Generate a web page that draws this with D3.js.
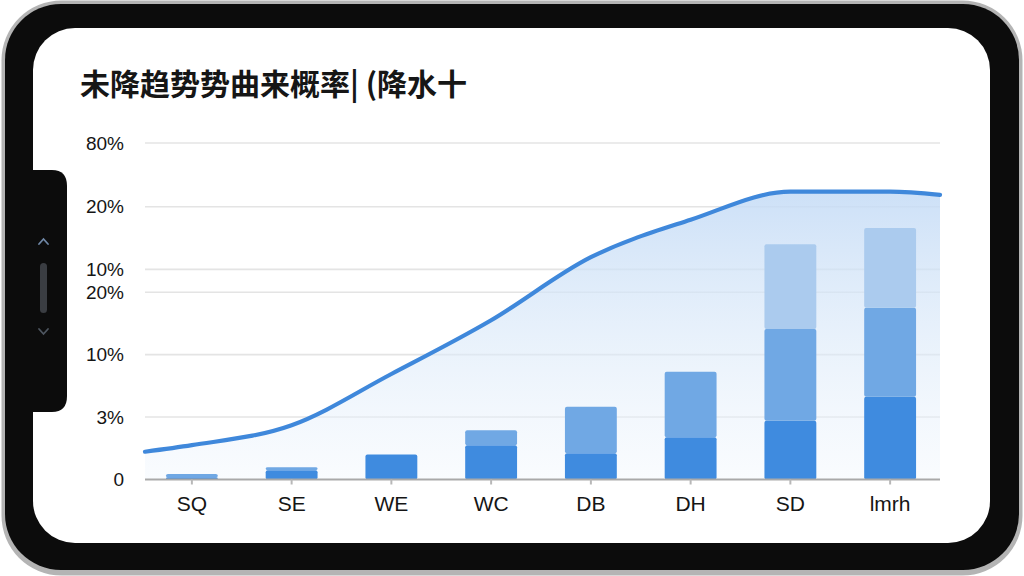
<!DOCTYPE html>
<html>
<head>
<meta charset="utf-8">
<script src="https://cdn.jsdelivr.net/npm/d3@7"></script>
<style>
  html, body { margin: 0; padding: 0; background: #ffffff; }
  svg { display: block; }
</style>
</head>
<body>
<svg id="chart" width="1024" height="576"></svg>
<script>
// ---- data ----
const title = "未降趋势势曲来概率| (降水十";
const categories = ["SQ", "SE", "WE", "WC", "DB", "DH", "SD", "lmrh"];
const baseValues  = [0.035, 0.15, 0.40, 0.55, 0.42, 0.675, 0.94, 1.325];
const midValues   = [0.053, 0.045, 0.00, 0.24, 0.745, 1.05, 1.47, 1.425];
const topValues   = [0.00, 0.00, 0.00, 0.00, 0.00, 0.00, 1.36, 1.28];
const lineValues  = [0.55, 0.87, 1.69, 2.55, 3.56, 4.16, 4.61, 4.61];
const lineEdgeValues = [0.445, 4.56];   // value at left and right plot edges
const tickPositions = [0, 1, 2, 3, 3.365, 4.37, 5.39];
const tickLabels    = ["0", "3%", "10%", "20%", "10%", "20%", "80%"];

// ---- setup ----
const svg = d3.select("#chart");
const plot = { left: 142, right: 940, top: 143, bottom: 479.5 };
const seriesKeys = ["base", "mid", "top"];
const seriesColors = { base: "#3f8bdf", mid: "#70a8e4", top: "#abcbee" };

// ---- phone frame ----
svg.append("rect").attr("x", 1.5).attr("y", 0.5).attr("width", 1021).attr("height", 575)
  .attr("rx", 60).attr("fill", "#b4b4b4");
svg.append("rect").attr("x", 5).attr("y", 4).attr("width", 1014).attr("height", 566)
  .attr("rx", 56).attr("fill", "#0c0c0c");
svg.append("rect").attr("x", 33).attr("y", 28).attr("width", 957).attr("height", 515)
  .attr("rx", 42).attr("fill", "#ffffff");

// side tab
const tab = d3.path();
tab.moveTo(28, 170); tab.lineTo(52, 170);
tab.quadraticCurveTo(67, 170, 67, 186);
tab.lineTo(67, 396);
tab.quadraticCurveTo(67, 412, 52, 412);
tab.lineTo(28, 412); tab.closePath();
svg.append("path").attr("d", tab.toString()).attr("fill", "#0c0c0c");
svg.append("rect").attr("x", 40).attr("y", 263).attr("width", 7).attr("height", 50)
  .attr("rx", 3.5).attr("fill", "#3a3d42");
svg.append("path").attr("d", "M39,244 L43.5,239 L48,244").attr("fill", "none")
  .attr("stroke", "#6f87a6").attr("stroke-width", 1.8).attr("stroke-linecap", "round");
svg.append("path").attr("d", "M39,329 L43.5,334 L48,329").attr("fill", "none")
  .attr("stroke", "#4e5660").attr("stroke-width", 1.8).attr("stroke-linecap", "round");

// ---- title ----
svg.append("text").attr("x", 80).attr("y", 95)
  .attr("font-family", "'Noto Sans CJK SC', sans-serif")
  .attr("font-size", 30).attr("font-weight", 700).attr("fill", "#161616")
  .text(title);

// ---- scales ----
const x = d3.scaleBand().domain(categories).range([plot.left, plot.right])
  .paddingInner(0.48).paddingOuter(0.24);
const y = d3.scaleLinear().domain([0, 5.39]).range([plot.bottom, plot.top]);

// ---- grid ----
svg.append("g").selectAll("line").data(tickPositions.filter(d => d > 0)).join("line")
  .attr("x1", plot.left + 3).attr("x2", plot.right)
  .attr("y1", d => y(d)).attr("y2", d => y(d))
  .attr("stroke", "#e4e4e4").attr("stroke-width", 1.6);

// ---- area gradient ----
const defs = svg.append("defs");
const grad = defs.append("linearGradient").attr("id", "areaGrad")
  .attr("x1", 0).attr("y1", 0).attr("x2", 0).attr("y2", 1);
grad.append("stop").attr("offset", "0%").attr("stop-color", "#c4dbf6").attr("stop-opacity", 0.85);
grad.append("stop").attr("offset", "55%").attr("stop-color", "#dceaf9").attr("stop-opacity", 0.6);
grad.append("stop").attr("offset", "100%").attr("stop-color", "#eef5fd").attr("stop-opacity", 0.35);

const lineData = [{ px: plot.left + 3, v: lineEdgeValues[0] }]
  .concat(categories.map((c, i) => ({ px: x(c) + x.bandwidth() / 2, v: lineValues[i] })))
  .concat([{ px: plot.right, v: lineEdgeValues[1] }]);

const area = d3.area().x(d => d.px).y0(y(0)).y1(d => y(d.v)).curve(d3.curveMonotoneX);
svg.append("path").datum(lineData).attr("d", area).attr("fill", "url(#areaGrad)");

// ---- stacked bars ----
const rows = categories.map((c, i) => ({ cat: c, base: baseValues[i], mid: midValues[i], top: topValues[i] }));
const stacked = d3.stack().keys(seriesKeys)(rows);
const barG = svg.append("g");
stacked.forEach(s => {
  barG.append("g").selectAll("rect").data(s.filter(d => d[1] - d[0] > 0)).join("rect")
    .attr("x", d => x(d.data.cat))
    .attr("width", x.bandwidth())
    .attr("y", d => y(d[1]))
    .attr("height", d => y(d[0]) - y(d[1]))
    .attr("rx", 2)
    .attr("fill", seriesColors[s.key]);
});

// ---- line ----
const line = d3.line().x(d => d.px).y(d => y(d.v)).curve(d3.curveMonotoneX);
svg.append("path").datum(lineData).attr("d", line)
  .attr("fill", "none").attr("stroke", "#3f88db").attr("stroke-width", 4.2)
  .attr("stroke-linecap", "round").attr("stroke-linejoin", "round");

// ---- axes ----
const yAxis = svg.append("g").attr("transform", `translate(${plot.left},0)`)
  .call(d3.axisLeft(y).tickValues(tickPositions)
    .tickFormat((d, i) => tickLabels[i]).tickSize(0).tickPadding(18));
yAxis.select(".domain").remove();
yAxis.selectAll("text").attr("font-family", "'Liberation Sans', Arial, sans-serif")
  .attr("font-size", 19).attr("fill", "#151515");

const xAxis = svg.append("g").attr("transform", `translate(0,${plot.bottom})`)
  .call(d3.axisBottom(x).tickSize(5).tickPadding(12));
xAxis.select(".domain").attr("d", `M${plot.left + 3},0H${plot.right}`)
  .attr("stroke", "#a9a9a9").attr("stroke-width", 2);
xAxis.selectAll(".tick line").attr("stroke", "#b8b8b8").attr("stroke-width", 2);
xAxis.selectAll("text").attr("font-family", "'Liberation Sans', Arial, sans-serif")
  .attr("font-size", 21).attr("fill", "#151515");
</script>
</body>
</html>
